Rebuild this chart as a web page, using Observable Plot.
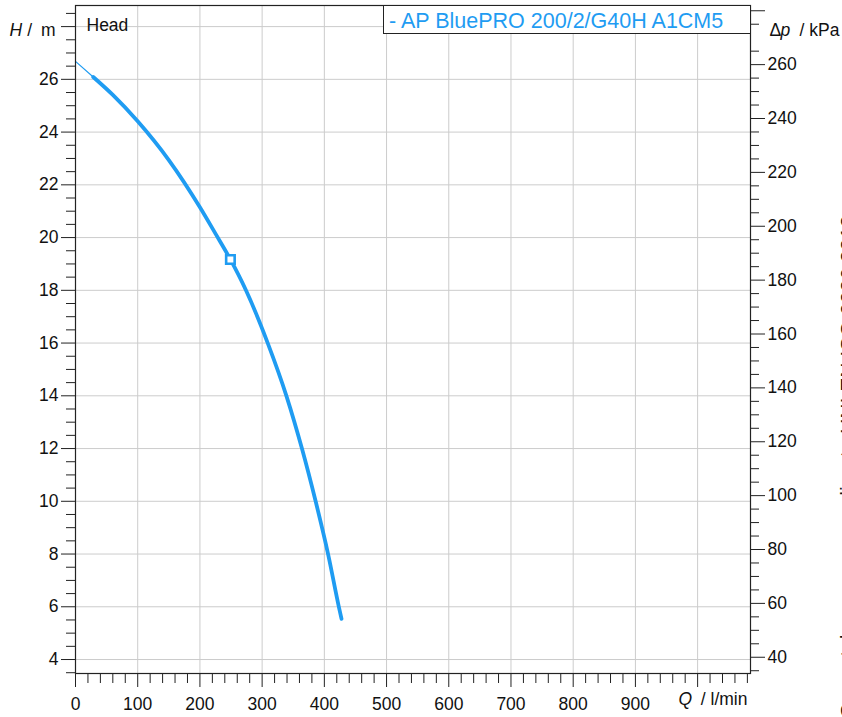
<!DOCTYPE html>
<html>
<head>
<meta charset="utf-8">
<script src="https://cdn.jsdelivr.net/npm/d3@7"></script>
<script src="https://cdn.jsdelivr.net/npm/@observablehq/plot@0.6"></script>
<style>
  body { margin: 0; background: #fff; }
  #wrap { position: relative; width: 842px; height: 717px; overflow: hidden; background: #fff; }
  .legend {
    position: absolute; left: 383px; top: 5px; width: 368px; height: 29px;
    box-sizing: border-box; border: 1px solid #222; background: #fff;
    font-family: 'Liberation Sans', Arial, sans-serif; font-size: 21.5px;
    line-height: 26px; padding: 2px 0 0 5px; color: #1f9cf2; white-space: nowrap;
  }
</style>
</head>
<body>
<div id="wrap"></div>
<script>
// ---- data ----
const thinQ = [0, 28.5];
const thinH = [26.68, 26.09];
const headQ = [28.5, 60, 100, 150, 200, 225, 249, 274, 309, 339, 364, 386, 406, 423.3, 427.6];
const headH = [26.09, 25.41, 24.41, 22.94, 21.15, 20.15, 19.17, 18, 16, 14, 12, 10, 8, 6, 5.54];
const dutyQ = [249];
const dutyH = [19.17];

// ---- ticks ----
const xMajor = [0, 100, 200, 300, 400, 500, 600, 700, 800, 900, 1000];
const xMinor = d3.range(20, 1081, 20).filter(d => d % 100 !== 0);
const yMajor = [4, 6, 8, 10, 12, 14, 16, 18, 20, 22, 24, 26, 28];
const yMinor = d3.range(3.5, 28.6, 0.5).filter(d => d % 2 !== 0);
const kpaMajor = [40, 60, 80, 100, 120, 140, 160, 180, 200, 220, 240, 260, 280];
const kpaMinor = d3.range(35, 281, 5).filter(d => d % 20 !== 0 && d !== 270);
const rhoG = 9.79; // kPa per metre of head

const seriesName = "- AP BluePRO 200/2/G40H A1CM5";
const caption = "Curve tolerances according to UNI EN ISO 9906:2012";
const blue = "#1f9cf2";
const ink = "#222";

const thin = thinQ.map((q, i) => ({q, h: thinH[i]}));
const head = headQ.map((q, i) => ({q, h: headH[i]}));
const duty = dutyQ.map((q, i) => ({q, h: dutyH[i]}));

const chart = Plot.plot({
  width: 842,
  height: 717,
  marginLeft: 75,
  marginRight: 92,
  marginTop: 5,
  marginBottom: 44,
  x: {domain: [0, 1085]},
  y: {domain: [3.47, 28.8]},
  style: {
    fontFamily: "'Liberation Sans', Arial, sans-serif",
    fontSize: "17.5px",
    color: ink,
    background: "white",
    overflow: "hidden"
  },
  marks: [
    Plot.gridX(xMajor.filter(d => d > 0), {stroke: "#cccccc", strokeOpacity: 1}),
    Plot.gridY(yMajor, {stroke: "#cccccc", strokeOpacity: 1}),
    Plot.line(thin, {x: "q", y: "h", stroke: blue, strokeWidth: 1.2}),
    Plot.line(head, {x: "q", y: "h", stroke: blue, strokeWidth: 3.8, curve: "monotone-x"}),
    Plot.dot(duty, {x: "q", y: "h", symbol: "square", r: 4.8, stroke: blue, strokeWidth: 2.6, fill: "white"}),
    Plot.frame({stroke: ink, strokeWidth: 1.2}),
    // left axis (H / m)
    Plot.axisY({ticks: yMajor, anchor: "left", tickSize: 14, tickPadding: 3,
      tickFormat: d => d === 28 ? "" : d, label: null, stroke: ink, fill: "#111"}),
    Plot.axisY({ticks: yMinor, anchor: "left", tickSize: 9, tickFormat: () => "", label: null, stroke: ink}),
    // right axis (Δp / kPa)
    Plot.axisY({ticks: kpaMajor.map(k => k / rhoG), anchor: "right", tickSize: 14, tickPadding: 3,
      tickFormat: d => { const k = Math.round(d * rhoG); return k === 280 ? "" : k; }, label: null, stroke: ink, fill: "#111"}),
    Plot.axisY({ticks: kpaMinor.map(k => k / rhoG), anchor: "right", tickSize: 8, tickFormat: () => "", label: null, stroke: ink}),
    // bottom axis (Q / l/min)
    Plot.axisX({ticks: xMajor, anchor: "bottom", tickSize: 14, tickPadding: 10,
      tickFormat: d => d === 1000 ? "" : d, label: null, stroke: ink, fill: "#111"}),
    Plot.axisX({ticks: xMinor, anchor: "bottom", tickSize: 10, tickFormat: () => "", label: null, stroke: ink}),
    // axis labels
    Plot.text([28], {y: d => d, frameAnchor: "left", text: () => "H", fontStyle: "italic", textAnchor: "start", dx: -66, dy: 4, fill: "#111"}),
    Plot.text([28], {y: d => d, frameAnchor: "left", text: () => "/\u2002m", textAnchor: "end", dx: -20, dy: 4, fill: "#111"}),
    Plot.text([28], {y: d => d, frameAnchor: "right", text: () => "\u0394", textAnchor: "start", dx: 19, dy: 4, fill: "#111"}),
    Plot.text([28], {y: d => d, frameAnchor: "right", text: () => "p", fontStyle: "italic", textAnchor: "start", dx: 30, dy: 4, fill: "#111"}),
    Plot.text([28], {y: d => d, frameAnchor: "right", text: () => "/ kPa", textAnchor: "start", dx: 49, dy: 4, fill: "#111"}),
    Plot.text(["Q"], {frameAnchor: "bottom-right", text: d => d, fontStyle: "italic", textAnchor: "start", dx: -72, dy: 31.5, fill: "#111"}),
    Plot.text(["/ l/min"], {frameAnchor: "bottom-right", text: d => d, textAnchor: "end", dx: -3, dy: 31.5, fill: "#111"}),
    Plot.text(["Head"], {frameAnchor: "top-left", text: d => d, textAnchor: "start", dx: 11, dy: 13, fill: "#111"}),
    Plot.text([caption], {frameAnchor: "top-right", text: d => d, rotate: -90, textAnchor: "end", lineAnchor: "bottom", dx: 104, dy: 210, fontSize: 21, fill: "#111"})
  ]
});

const wrap = document.getElementById("wrap");
wrap.appendChild(chart);
const legend = document.createElement("div");
legend.className = "legend";
legend.textContent = seriesName;
wrap.appendChild(legend);
</script>
</body>
</html>
